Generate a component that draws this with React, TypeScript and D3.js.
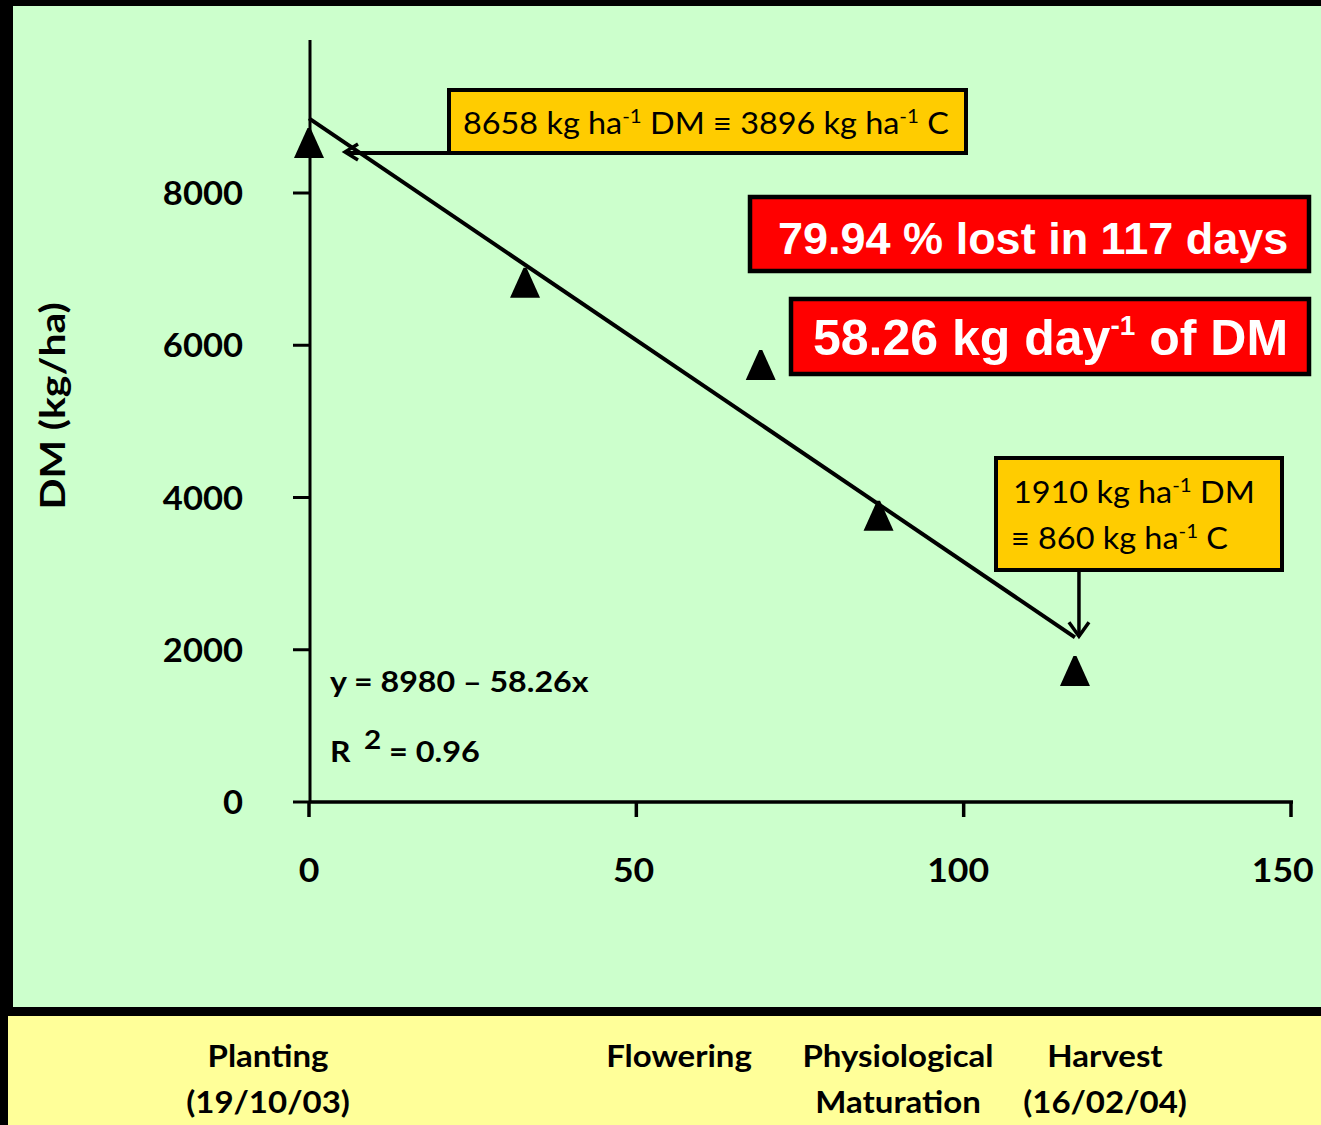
import React from 'react';
import * as d3 from 'd3';

// ---- data ----
const days = [0, 33, 69, 87, 117];
const dryMatter = [8658, 6820, 5740, 3760, 1720];
const yTicks = [0, 2000, 4000, 6000, 8000];
const xTicks = [0, 50, 100, 150];
const trendIntercept = 8980;
const trendSlope = -58.26;
const trendDays = [0, 117];
const stageLine1 = ['Planting', 'Flowering', 'Physiological', 'Harvest'];
const stageLine2 = ['(19/10/03)', '', 'Maturation', '(16/02/04)'];

// ---- layout ----
const W = 1321;
const H = 1125;
const stageCenters = [268, 679, 898, 1105];
const CAL = 'Lato, "Open Sans", sans-serif';
const ARI = '"Liberation Sans", Arial, sans-serif';
const SX = 1.1;

function Txt({ x, y, sx = SX, anchor = 'start', size, weight = 'normal', fill = '#000', family = CAL, children }: any) {
  return (
    <g transform={`translate(${x},${y}) scale(${sx},1)`}>
      <text textAnchor={anchor} fontSize={size} fontWeight={weight} fill={fill} fontFamily={family}>
        {children}
      </text>
    </g>
  );
}

export default function App() {
  const x = d3.scaleLinear().domain([0, 150]).range([309, 1291]);
  const y = d3.scaleLinear().domain([0, 10000]).range([802, 40.75]);
  const pts = days.map((d, i) => [x(d), y(dryMatter[i])]);
  const trend = d3.line()(trendDays.map((d) => [x(d), y(trendIntercept + trendSlope * d)]) as any);
  const endX = x(trendDays[1]);
  const endY = y(trendIntercept + trendSlope * trendDays[1]);

  const triPath = (cx: number, cy: number) => {
    const h = 15;
    return `M${cx - 1.5},${cy - h}L${cx + 1.5},${cy - h}L${cx + h},${cy + h}L${cx - h},${cy + h}Z`;
  };

  return (
    <div style={{ position: 'absolute', left: 0, top: 0 }}>
      <svg width={W} height={H} style={{ display: 'block' }}>
        <rect x={0} y={0} width={W} height={H} fill="#000" />
        <rect x={13} y={6} width={W - 13} height={1001} fill="#CCFFCC" />
        <rect x={8} y={1016} width={W - 8} height={H - 1016} fill="#FFFF99" />

        {/* y axis */}
        <line x1={310} x2={310} y1={40} y2={y(0)} stroke="#000" strokeWidth={3} />
        {yTicks.map((t) => (
          <g key={t}>
            <line x1={293} x2={310} y1={y(t)} y2={y(t)} stroke="#000" strokeWidth={3} />
            <Txt x={243} y={y(t) + 12} anchor="end" size={32} weight="bold" sx={1.08}>
              {t}
            </Txt>
          </g>
        ))}
        {/* x axis */}
        <line x1={309} x2={1293} y1={y(0)} y2={y(0)} stroke="#000" strokeWidth={3.5} />
        {xTicks.map((t) => (
          <g key={t}>
            <line x1={x(t)} x2={x(t)} y1={y(0)} y2={817} stroke="#000" strokeWidth={3.5} />
            <Txt x={x(t) - t * 0.055} y={882} anchor="middle" size={33} weight="bold" sx={1.08}>
              {t}
            </Txt>
          </g>
        ))}

        {/* y title */}
        <g transform="translate(65,406) rotate(-90) scale(1.2,1)">
          <text textAnchor="middle" fontSize={34} fontWeight="bold" fontFamily={CAL}>
            DM (kg/ha)
          </text>
        </g>

        {/* trend line */}
        <path d={trend || ''} stroke="#000" strokeWidth={4} fill="none" />

        {/* markers */}
        {pts.map(([cx, cy], i) => (
          <path key={i} d={triPath(cx, cy)} fill="#000" />
        ))}

        {/* annotation 1 */}
        <line x1={347} x2={449} y1={153} y2={153} stroke="#000" strokeWidth={4} />
        <path d="M358,144 L345,152 L358,160" stroke="#000" strokeWidth={3.5} fill="none" />
        <rect x={449} y={90} width={517} height={63} fill="#FFCC00" stroke="#000" strokeWidth={4} />
        <Txt x={463} y={134} size={30} sx={1.08}>
          8658 kg ha<tspan fontSize={19} dy={-11}>-1</tspan>
          <tspan dy={11}> DM ≡ 3896 kg ha</tspan>
          <tspan fontSize={19} dy={-11}>-1</tspan>
          <tspan dy={11}> C</tspan>
        </Txt>

        {/* red boxes */}
        <rect x={750} y={197} width={559} height={74} fill="#FF0000" stroke="#000" strokeWidth={4.5} />
        <Txt x={778} y={254} size={45} weight="bold" fill="#fff" family={ARI} sx={1}>
          79.94 % lost in 117 days
        </Txt>
        <rect x={791} y={299} width={518} height={75} fill="#FF0000" stroke="#000" strokeWidth={4.5} />
        <Txt x={813} y={355} size={50} weight="bold" fill="#fff" family={ARI} sx={1}>
          58.26 kg day<tspan fontSize={28} dy={-20}>-1</tspan>
          <tspan dy={20}> of DM</tspan>
        </Txt>

        {/* annotation 2 */}
        <rect x={996} y={458} width={286} height={112} fill="#FFCC00" stroke="#000" strokeWidth={4} />
        <Txt x={1013} y={503} size={30} sx={1.08}>
          1910 kg ha<tspan fontSize={19} dy={-11}>-1</tspan>
          <tspan dy={11}> DM</tspan>
        </Txt>
        <Txt x={1011} y={549} size={30} sx={1.08}>
          ≡ 860 kg ha<tspan fontSize={19} dy={-11}>-1</tspan>
          <tspan dy={11}> C</tspan>
        </Txt>
        <line x1={endX + 4} x2={endX + 4} y1={572} y2={endY - 1} stroke="#000" strokeWidth={3.5} />
        <path d={`M${endX - 6},${endY - 15} L${endX + 4},${endY - 1} L${endX + 14},${endY - 15}`} stroke="#000" strokeWidth={3.5} fill="none" />

        {/* equation */}
        <Txt x={330} y={692} size={29} weight="bold" sx={1.11}>
          y = 8980 – 58.26x
        </Txt>
        <Txt x={330} y={762} size={29} weight="bold" sx={1.1}>
          R
        </Txt>
        <Txt x={364} y={749} size={27} weight="bold" sx={1.1}>
          2
        </Txt>
        <Txt x={389} y={762} size={29} weight="bold" sx={1.12}>
          = 0.96
        </Txt>

        {/* stages */}
        {stageLine1.map((s, i) => (
          <g key={s}>
            <Txt x={stageCenters[i]} y={1067} anchor="middle" size={30} weight="bold" sx={1.1}>
              {s}
            </Txt>
            {stageLine2[i] && (
              <Txt x={stageCenters[i]} y={1113} anchor="middle" size={30} weight="bold" sx={1.1}>
                {stageLine2[i]}
              </Txt>
            )}
          </g>
        ))}
      </svg>
    </div>
  );
}
